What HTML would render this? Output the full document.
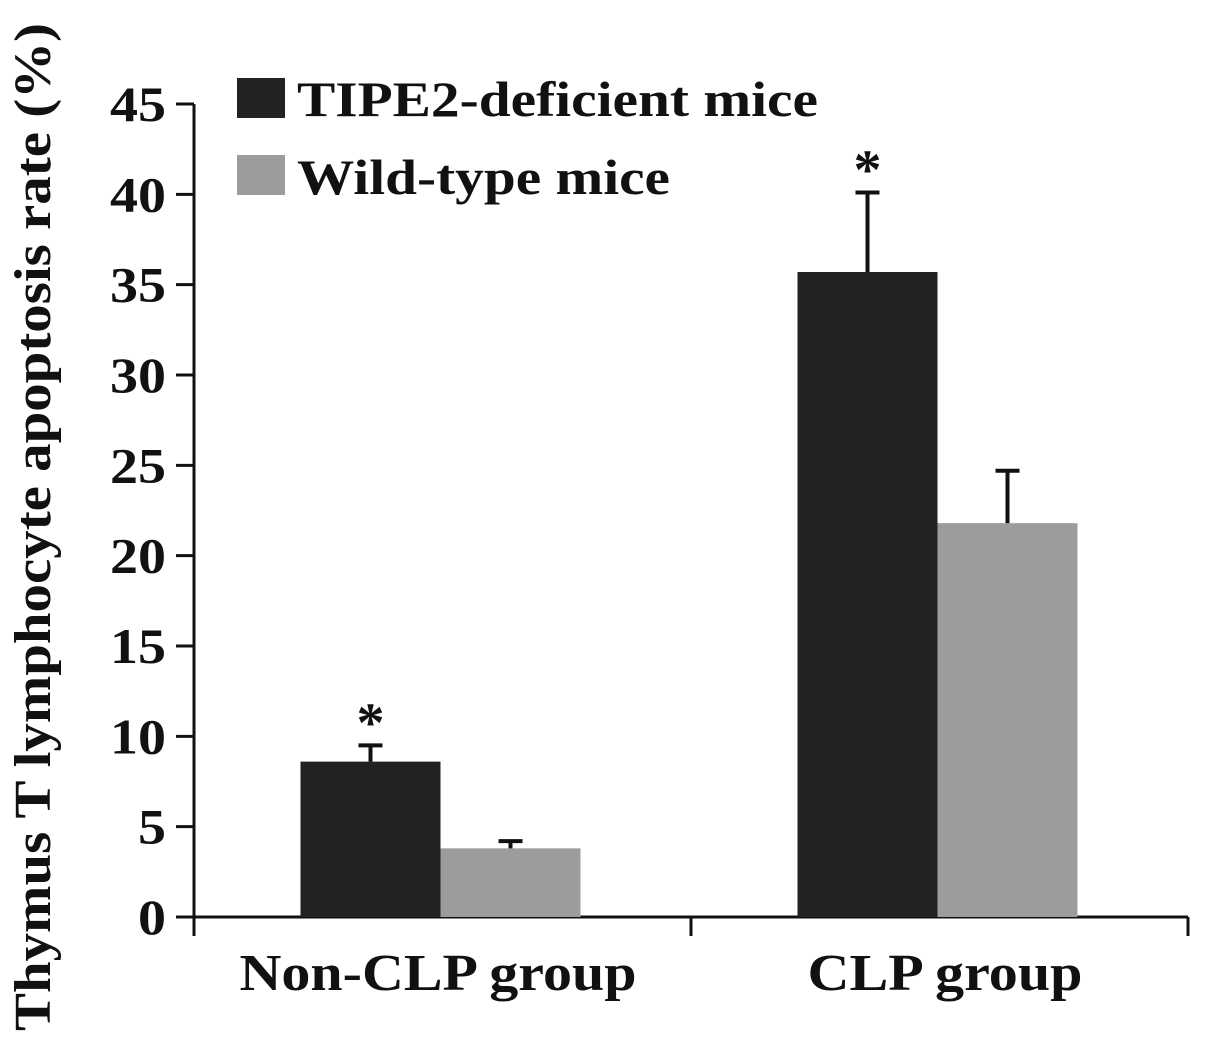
<!DOCTYPE html>
<html><head><meta charset="utf-8"><style>
body{margin:0;background:#fff}
svg text{font-family:"Liberation Serif",serif;font-weight:bold;fill:#111}
</style></head><body>
<svg width="1205" height="1043" viewBox="0 0 1205 1043" id="svg">
<text transform="translate(50,527) rotate(-90)" text-anchor="middle" font-size="52" textLength="1008" lengthAdjust="spacingAndGlyphs">Thymus T lymphocyte apoptosis rate (%)</text>
<rect x="237" y="78" width="48" height="40" fill="#222"/>
<text x="297" y="116" font-size="50" textLength="521" lengthAdjust="spacingAndGlyphs">TIPE2-deficient mice</text>
<rect x="237" y="155" width="48" height="40" fill="#9c9c9c"/>
<text x="297" y="194" font-size="50" textLength="373" lengthAdjust="spacingAndGlyphs">Wild-type mice</text>
<g id="plot"></g>
</svg>
<script>
const categories=["Non-CLP group","CLP group"];
const tipe2=[8.6,35.7];
const tipe2Err=[0.9,4.4];
const wild=[3.8,21.8];
const wildErr=[0.4,2.9];
const ticks=[0,5,10,15,20,25,30,35,40,45];
const sig=[true,true];
const NS="http://www.w3.org/2000/svg";
const g=document.getElementById('plot');
const x0=194,x1=1188,y0=917,yTop=104;
const y=v=>y0-(v/45)*(y0-yTop);
function mk(t,a){const e=document.createElementNS(NS,t);for(const k in a)e.setAttribute(k,a[k]);g.appendChild(e);return e;}
let e=mk('line',{x1:x0,y1:y(45),x2:x0,y2:936,stroke:'#111','stroke-width':3});


e=mk('line',{x1:176,y1:y0,x2:x1,y2:y0,stroke:'#111','stroke-width':3});


ticks.forEach(t=>{
 let l=mk('line',{x1:176,y1:y(t),x2:x0,y2:y(t),stroke:'#111','stroke-width':3});
 
 
 const s=String(t);
 let tx=mk('text',{x:166,y:y(t)+17,'text-anchor':'end','font-size':50,textLength:28*s.length,lengthAdjust:'spacingAndGlyphs'});
 tx.textContent=s;
 
 
});
const bw=(x1-x0)/categories.length;
for(let i=0;i<=categories.length;i++){
 let l=mk('line',{x1:x0+i*bw,y1:y0,x2:x0+i*bw,y2:936,stroke:'#111','stroke-width':3});
 
 
}
const labelW=[397,275];
const labelX=[438,945];
categories.forEach((c,i)=>{
 const cx=x0+bw*(i+0.5);
 const w=140;
 [[tipe2,tipe2Err,'#222',cx-w-2,'tipe2'],[wild,wildErr,'#9c9c9c',cx-2,'wildtype']].forEach(([d,er,col,bx,nm])=>{
  const v=d[i];
  let r=mk('rect',{x:bx,y:y(v),width:w,height:y0-y(v),fill:col});
  
  
  const mx=bx+w/2;
  let el=mk('path',{d:`M${mx},${y(v)}V${y(v+er[i])}M${mx-12},${y(v+er[i])}H${mx+12}`,stroke:'#111','stroke-width':4,fill:'none'});
  
  
 });
 if(sig[i]){
  const mx=cx-w/2-2;
  let s=mk('text',{x:mx,y:y(tipe2[i]+tipe2Err[i])-4,'text-anchor':'middle','font-size':56});
  s.textContent='*';
  
  
 }
 let t=mk('text',{x:labelX[i],y:990,'text-anchor':'middle','font-size':52,textLength:labelW[i],lengthAdjust:'spacingAndGlyphs'});
 t.textContent=c;
 
 
});
</script>
</body></html>
